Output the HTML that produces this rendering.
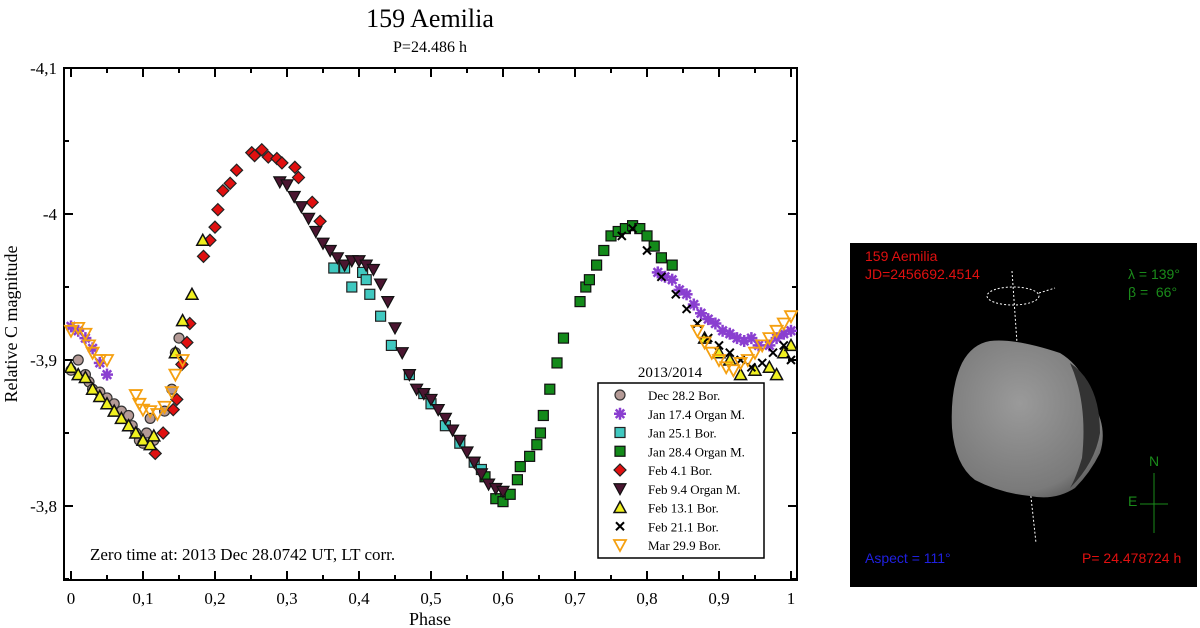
<!DOCTYPE html>
<html><head><meta charset="utf-8"><style>
body{margin:0;background:#fff;width:1200px;height:628px;overflow:hidden;position:relative;font-family:"Liberation Serif",serif}
svg text{font-family:"Liberation Serif",serif}
#panel{position:absolute;left:850px;top:243px;width:347px;height:344px;background:#000;font-family:"Liberation Sans",sans-serif;font-size:14px}
#panel div{position:absolute}
</style></head><body>
<svg id="chart" width="840" height="628" style="position:absolute;left:0;top:0"></svg>
<div id="panel">
 <div style="left:15px;top:5px;color:#e01010">159 Aemilia</div>
 <div style="left:15px;top:23px;color:#e01010">JD=2456692.4514</div>
 <div style="left:278px;top:23px;color:#1a8a1a">λ = 139°</div>
 <div style="left:278px;top:41px;color:#1a8a1a">β = &nbsp;66°</div>
 <div style="left:15px;top:307px;color:#2020e0">Aspect = 111°</div>
 <div style="left:232px;top:307px;color:#e01010">P= 24.478724 h</div>
 <div style="left:299px;top:210px;color:#1a8a1a">N</div>
 <div style="left:278px;top:250px;color:#1a8a1a">E</div>
 <svg width="347" height="344" style="position:absolute;left:0;top:0">
  <g stroke="#1a8a1a"><line x1="304" y1="230" x2="304" y2="290"/><line x1="290" y1="261" x2="318" y2="261"/></g>
  <g stroke="#fff" stroke-dasharray="2,2" fill="none">
   <line x1="162" y1="28" x2="167" y2="100"/><line x1="180" y1="245" x2="186" y2="300"/>
   <ellipse cx="163" cy="53" rx="26" ry="9"/><line x1="189" y1="50" x2="205" y2="45"/></g>
  <defs><radialGradient id="g" cx="0.45" cy="0.4" r="0.7"><stop offset="0" stop-color="#9a9a9a"/><stop offset="0.8" stop-color="#7a7a7a"/><stop offset="1" stop-color="#555"/></radialGradient></defs>
  <path d="M140 98 Q165 95 210 110 Q235 125 243 160 Q258 185 250 210 Q240 230 225 245 Q205 258 180 253 Q150 250 125 237 Q105 222 102 185 Q100 145 112 120 Q122 101 140 98Z" fill="url(#g)"/>
  <path d="M220 120 Q238 160 232 215 Q226 235 220 245 Q245 220 250 190 Q250 140 220 120Z" fill="#333"/>
 </svg>
</div>
<script>
const decPh=[0,0.01,0.02,0.025,0.03,0.04,0.05,0.06,0.07,0.08,0.085,0.09,0.095,0.1,0.105,0.11,0.115,0.13,0.14,0.145,0.15];
const decMag=[-3.893,-3.9,-3.89,-3.885,-3.88,-3.878,-3.874,-3.87,-3.865,-3.862,-3.855,-3.85,-3.845,-3.843,-3.85,-3.86,-3.845,-3.865,-3.88,-3.905,-3.915];
const j17Ph=[0,0.01,0.02,0.03,0.04,0.05,0.815,0.825,0.835,0.845,0.855,0.865,0.875,0.885,0.895,0.905,0.915,0.925,0.935,0.945,0.955,0.97,0.98,0.99,1.0];
const j17Mag=[-3.923,-3.92,-3.915,-3.908,-3.898,-3.89,-3.96,-3.957,-3.955,-3.948,-3.945,-3.938,-3.932,-3.928,-3.925,-3.92,-3.918,-3.915,-3.913,-3.915,-3.91,-3.91,-3.915,-3.918,-3.92];
const j25Ph=[0.365,0.38,0.39,0.405,0.41,0.415,0.43,0.445,0.47,0.49,0.5,0.52,0.54,0.56,0.57];
const j25Mag=[-3.963,-3.963,-3.95,-3.96,-3.955,-3.945,-3.93,-3.91,-3.89,-3.877,-3.87,-3.855,-3.843,-3.83,-3.825];
const j28Ph=[0.575,0.59,0.6,0.61,0.62,0.624,0.637,0.647,0.652,0.656,0.665,0.675,0.684,0.707,0.715,0.72,0.73,0.74,0.75,0.76,0.77,0.78,0.79,0.8,0.81,0.82,0.835];
const j28Mag=[-3.82,-3.805,-3.803,-3.808,-3.818,-3.827,-3.834,-3.842,-3.85,-3.862,-3.88,-3.898,-3.915,-3.94,-3.95,-3.955,-3.965,-3.975,-3.985,-3.988,-3.99,-3.992,-3.99,-3.985,-3.978,-3.97,-3.965];
const f4Ph=[0.117,0.128,0.142,0.147,0.154,0.161,0.165,0.184,0.193,0.2,0.204,0.211,0.221,0.23,0.251,0.255,0.265,0.274,0.286,0.293,0.311,0.316,0.335,0.346];
const f4Mag=[-3.836,-3.85,-3.866,-3.873,-3.897,-3.912,-3.925,-3.971,-3.982,-3.991,-4.003,-4.016,-4.021,-4.03,-4.042,-4.04,-4.044,-4.039,-4.038,-4.035,-4.032,-4.025,-4.008,-3.995];
const f9Ph=[0.29,0.3,0.31,0.32,0.33,0.34,0.35,0.36,0.37,0.38,0.39,0.4,0.41,0.42,0.43,0.44,0.45,0.46,0.47,0.48,0.49,0.5,0.51,0.52,0.53,0.54,0.55,0.56,0.57,0.58,0.59,0.6];
const f9Mag=[-4.022,-4.02,-4.012,-4.005,-3.997,-3.988,-3.98,-3.975,-3.97,-3.965,-3.968,-3.968,-3.965,-3.962,-3.952,-3.94,-3.922,-3.905,-3.89,-3.88,-3.877,-3.873,-3.866,-3.86,-3.852,-3.845,-3.837,-3.83,-3.822,-3.815,-3.812,-3.81];
const f13Ph=[0,0.01,0.02,0.03,0.04,0.05,0.06,0.07,0.08,0.09,0.1,0.11,0.115,0.145,0.155,0.168,0.183,0.88,0.9,0.915,0.93,0.95,0.97,0.98,0.99,1.0];
const f13Mag=[-3.895,-3.89,-3.888,-3.88,-3.875,-3.87,-3.865,-3.86,-3.855,-3.85,-3.845,-3.842,-3.848,-3.905,-3.927,-3.945,-3.982,-3.915,-3.905,-3.9,-3.89,-3.893,-3.895,-3.89,-3.905,-3.91];
const f21Ph=[0.765,0.78,0.8,0.82,0.84,0.855,0.87,0.885,0.9,0.915,0.93,0.945,0.96,0.975,0.99,1.0];
const f21Mag=[-3.985,-3.99,-3.975,-3.957,-3.945,-3.935,-3.925,-3.915,-3.91,-3.905,-3.9,-3.895,-3.898,-3.905,-3.91,-3.9];
const m29Ph=[0,0.01,0.02,0.025,0.03,0.04,0.05,0.09,0.095,0.1,0.11,0.12,0.13,0.14,0.145,0.155,0.87,0.88,0.89,0.9,0.91,0.92,0.93,0.94,0.95,0.96,0.97,0.98,0.99,1.0];
const m29Mag=[-3.92,-3.922,-3.918,-3.91,-3.905,-3.9,-3.9,-3.876,-3.87,-3.866,-3.865,-3.863,-3.868,-3.878,-3.89,-3.9,-3.92,-3.912,-3.905,-3.9,-3.895,-3.893,-3.898,-3.9,-3.905,-3.91,-3.915,-3.92,-3.925,-3.93];
const xTicks=[0,0.1,0.2,0.3,0.4,0.5,0.6,0.7,0.8,0.9,1];
const xTickLabels=["0","0,1","0,2","0,3","0,4","0,5","0,6","0,7","0,8","0,9","1"];
const yTicks=[-4.1,-4,-3.9,-3.8];
const yTickLabels=["-4,1","-4","-3,9","-3,8"];
const legendLabels=["Dec 28.2 Bor.","Jan 17.4 Organ M.","Jan 25.1 Bor.","Jan 28.4 Organ M.","Feb 4.1 Bor.","Feb 9.4 Organ M.","Feb 13.1 Bor.","Feb 21.1 Bor.","Mar 29.9 Bor."];

const NS="http://www.w3.org/2000/svg";
const svg=document.getElementById('chart');
const L=64,R=797,T=68,B=580;
const X=p=>71+p*720;
const Y=m=>214+(m+4)*1460;
function mk(tag,attrs,parent){const e=document.createElementNS(NS,tag);for(const k in attrs)e.setAttribute(k,attrs[k]);(parent||svg).appendChild(e);return e;}
function txt(s,x,y,size,anchor,parent){const t=mk('text',{x:x,y:y,'font-size':size,'text-anchor':anchor||'start',fill:'#000'},parent);t.textContent=s;return t;}

let t=txt("159 Aemilia",430,27,26,'middle');

t=txt("P=24.486 h",430,52,16,'middle');


const frame=mk('rect',{x:L,y:T,width:R-L,height:B-T,fill:'none',stroke:'#000','stroke-width':2});


const ax=mk('g',{stroke:'#000','stroke-width':2});

for(let i=0;i<=20;i++){const p=i*0.05,x=X(p),len=i%2?5:9;
 mk('line',{x1:x,y1:B,x2:x,y2:B-len},ax);mk('line',{x1:x,y1:T,x2:x,y2:T+len},ax);}
for(let i=0;i<=7;i++){const m=-4.1+i*0.05,y=Y(m),len=i%2?5:9;
 mk('line',{x1:L,y1:y,x2:L+len,y2:y},ax);mk('line',{x1:R,y1:y,x2:R-len,y2:y},ax);}
xTicks.forEach((v,i)=>{const e=txt(xTickLabels[i],X(v),604,17,'middle');
 });
yTicks.forEach((v,i)=>{const e=txt(yTickLabels[i],57,Y(v)+6,17,'end');
 });
t=txt("Phase",430,625,18,'middle');

t=txt("Relative C magnitude",0,0,18,'middle');
t.setAttribute('transform','translate(17,324) rotate(-90)');

t=txt("Zero time at: 2013 Dec 28.0742 UT, LT corr.",90,560,17,'start');


function marker(type,x,y,g){
 const s=5;
 switch(type){
 case 'circle':mk('circle',{cx:x,cy:y,r:5,fill:'#b49a96',stroke:'#333','stroke-width':1.2},g);break;
 case 'star':for(let a=0;a<4;a++){const an=a*Math.PI/4;mk('line',{x1:x-6*Math.cos(an),y1:y-6*Math.sin(an),x2:x+6*Math.cos(an),y2:y+6*Math.sin(an),stroke:'#8a3fd0','stroke-width':2.5},g);}break;
 case 'cyan':mk('rect',{x:x-s,y:y-s,width:2*s,height:2*s,fill:'#40c8c0',stroke:'#222','stroke-width':1.2},g);break;
 case 'green':mk('rect',{x:x-s,y:y-s,width:2*s,height:2*s,fill:'#138a1a',stroke:'#111','stroke-width':1.2},g);break;
 case 'diamond':mk('polygon',{points:`${x},${y-6} ${x+6},${y} ${x},${y+6} ${x-6},${y}`,fill:'#e01010',stroke:'#222','stroke-width':1.2},g);break;
 case 'dtri':mk('polygon',{points:`${x-6},${y-5} ${x+6},${y-5} ${x},${y+6}`,fill:'#4a1530',stroke:'#111','stroke-width':1.2},g);break;
 case 'utri':mk('polygon',{points:`${x-6},${y+5} ${x+6},${y+5} ${x},${y-6}`,fill:'#f0f020',stroke:'#111','stroke-width':1.5},g);break;
 case 'x':mk('line',{x1:x-4,y1:y-4,x2:x+4,y2:y+4,stroke:'#000','stroke-width':2},g);mk('line',{x1:x-4,y1:y+4,x2:x+4,y2:y-4,stroke:'#000','stroke-width':2},g);break;
 case 'odtri':mk('polygon',{points:`${x-6},${y-5} ${x+6},${y-5} ${x},${y+6}`,fill:'none',stroke:'#f5a010','stroke-width':1.8},g);break;
 }
}
const series=[
 ['dec-28-series','circle',decPh,decMag],['jan-17-series','star',j17Ph,j17Mag],['jan-25-series','cyan',j25Ph,j25Mag],
 ['jan-28-series','green',j28Ph,j28Mag],['feb-4-series','diamond',f4Ph,f4Mag],['feb-9-series','dtri',f9Ph,f9Mag],
 ['feb-13-series','utri',f13Ph,f13Mag],['feb-21-series','x',f21Ph,f21Mag],['mar-29-series','odtri',m29Ph,m29Mag]];
series.forEach(([name,type,ph,mg])=>{
 const g=mk('g',{});
 
 
 ph.forEach((p,i)=>marker(type,X(p),Y(mg[i]),g));
});

t=txt("2013/2014",670,377,15,'middle');

const lg=mk('g',{});


mk('rect',{x:598,y:383,width:166,height:175,fill:'#fff',stroke:'#000','stroke-width':1.5},lg);
legendLabels.forEach((lab,i)=>{
 const y=395+i*18.75;
 const g=mk('g',{},lg);
 
 
 marker(series[i][1],620,y,g);
 txt(lab,648,y+5,13,'start',g);
});
</script>
</body></html>
